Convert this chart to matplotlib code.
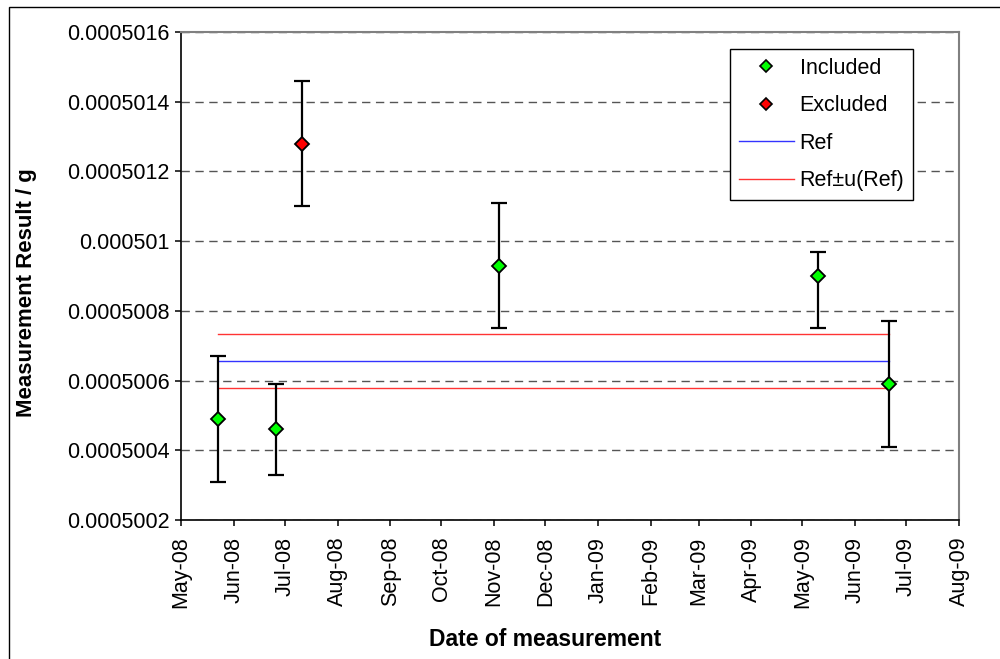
import matplotlib
matplotlib.use("Agg")
import matplotlib.pyplot as plt
import matplotlib.dates as mdates
from matplotlib.ticker import FuncFormatter, MultipleLocator
from matplotlib.lines import Line2D
from matplotlib.patches import Rectangle
from datetime import date

plt.rcParams['font.family'] = ['Liberation Sans', 'DejaVu Sans']

# measurement dates and results (g) with their uncertainties
dates = [date(2008, 5, 23), date(2008, 6, 26), date(2008, 7, 11),
         date(2008, 11, 4), date(2009, 5, 10), date(2009, 6, 21)]
results = [0.00050049, 0.00050046, 0.00050128, 0.00050093, 0.00050090, 0.00050059]
err_low = [0.00000018, 0.00000013, 0.00000018, 0.00000018, 0.00000015, 0.00000018]
err_high = [0.00000018, 0.00000013, 0.00000018, 0.00000018, 0.00000007, 0.00000018]
included = [True, True, False, True, True, True]

ref_value = 0.000500657
ref_unc = 0.000000078

fig = plt.figure(figsize=(10, 6.59), dpi=100)
ax = fig.add_axes([0.181, 1 - 520 / 659, 0.778, 488 / 659])

# error bars first, markers on top
ax.errorbar(dates, results, yerr=[err_low, err_high], fmt='none', ecolor='black',
            elinewidth=1.6, capsize=6, capthick=1.6, zorder=3)

inc_d = [d for d, k in zip(dates, included) if k]
inc_v = [v for v, k in zip(results, included) if k]
exc_d = [d for d, k in zip(dates, included) if not k]
exc_v = [v for v, k in zip(results, included) if not k]
ax.plot(inc_d, inc_v, 'D', color='#00FF00', mec='black', mew=1.3, ms=7, zorder=4)
ax.plot(exc_d, exc_v, 'D', color='#FF0000', mec='black', mew=1.3, ms=7, zorder=4)

# reference value and its uncertainty band
span = [dates[0], dates[-1]]
ax.plot(span, [ref_value] * 2, color='#3333FF', lw=1.0, zorder=2)
ax.plot(span, [ref_value + ref_unc] * 2, color='#FF3333', lw=1.0, zorder=2)
ax.plot(span, [ref_value - ref_unc] * 2, color='#FF3333', lw=1.0, zorder=2)

ax.set_xlim(date(2008, 5, 1), date(2009, 8, 1))
ax.set_ylim(0.0005002, 0.0005016)

ax.xaxis.set_major_locator(mdates.MonthLocator())
ax.xaxis.set_major_formatter(mdates.DateFormatter('%b-%y'))
ax.yaxis.set_major_locator(MultipleLocator(0.0000002))
ax.yaxis.set_major_formatter(FuncFormatter(lambda v, p: f"{v:.7f}".rstrip('0')))

for lab in ax.get_xticklabels():
    lab.set_rotation(90)
ax.tick_params(axis='both', labelsize=15.5, direction='out', length=4, width=1.1, color='black')
ax.tick_params(axis='x', pad=8)
ax.tick_params(axis='y', pad=4)

ax.grid(axis='y', color='#555555', linestyle=(0, (6, 4)), linewidth=1.0)
ax.set_axisbelow(True)

for side in ['left', 'bottom']:
    ax.spines[side].set_color('black')
    ax.spines[side].set_linewidth(1.2)
for side in ['top', 'right']:
    ax.spines[side].set_color('#808080')
    ax.spines[side].set_linewidth(1.5)

ax.set_xlabel('Date of measurement', fontsize=16.5, fontweight='bold', va='center')
ax.set_ylabel('Measurement Result / g', fontsize=16, fontweight='bold', va='center')
ax.xaxis.set_label_coords((545 - 181) / 778, (520 - 640) / 488)
ax.yaxis.set_label_coords((27 - 181) / 778, (520 - 293) / 488)

handles = [
    Line2D([], [], marker='D', ls='none', color='#00FF00', mec='black', mew=1.2, ms=6),
    Line2D([], [], marker='D', ls='none', color='#FF0000', mec='black', mew=1.2, ms=6),
    Line2D([], [], color='#3333FF', lw=1.0),
    Line2D([], [], color='#FF3333', lw=1.0),
]
leg = ax.legend(handles, ['Included', 'Excluded', 'Ref', 'Ref\u00b1u(Ref)'],
                loc='upper right', bbox_to_anchor=(0.941, 0.965), borderaxespad=0,
                fontsize=15.5, labelspacing=0.77, handlelength=2.56, handletextpad=0.28,
                borderpad=0.4, fancybox=False, framealpha=1, edgecolor='black')
leg.get_frame().set_linewidth(1.0)

# chart area border (only the left and top edges fall inside the image)
fig.patches.append(Rectangle((0.009, -0.2), 1.2, 1.2 - 7 / 659, transform=fig.transFigure,
                             fill=False, edgecolor='black', lw=1.0))

fig.savefig('out.png', dpi=100)
